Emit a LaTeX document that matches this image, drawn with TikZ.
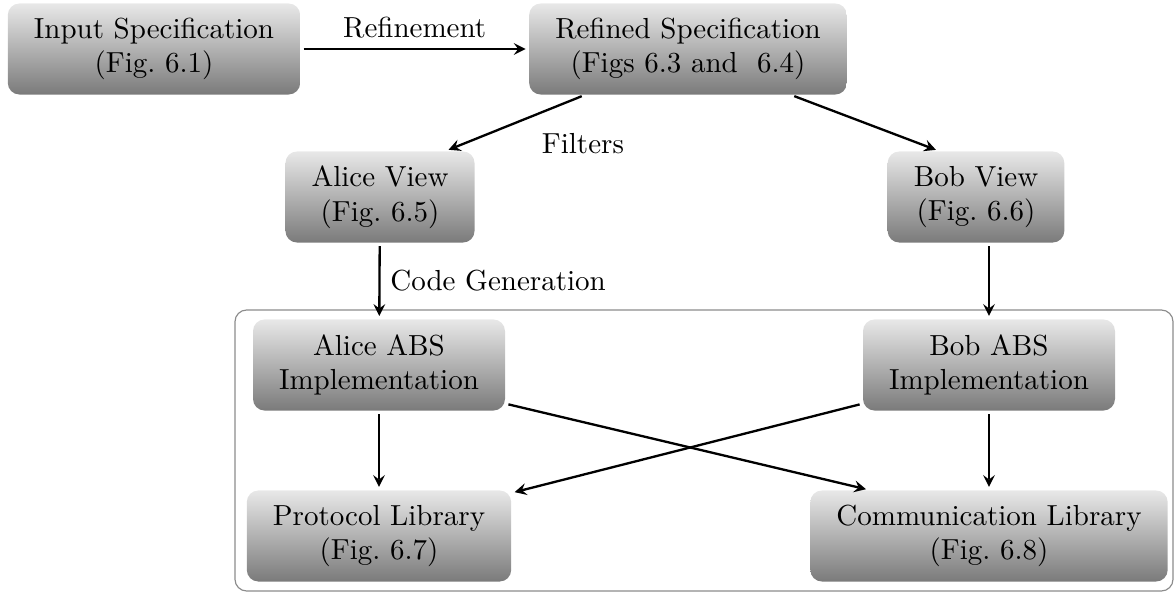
\documentclass[tikz,border=0pt]{standalone}
\usepackage{tikz}
\usetikzlibrary{arrows.meta, positioning, fit, shapes}

\begin{document}
\begin{tikzpicture}[x=0.3448pt, y=-0.3448pt,
        stage/.style={align=center, rounded corners, inner xsep=9pt,
            minimum height=31.4pt, top color=black!9, bottom color=black!52},
        flow/.style={-stealth, thick, shorten >=1pt, shorten <=1pt},
        group/.style={draw=black!45, rounded corners}
    ]
    \useasboundingbox (0,0) rectangle (1174,592);
    % Spezifikation und Sichten
    \node[stage] (input) at (154,49) {Input Specification\\(Fig.\ 6.1)};
    \node[stage] (refined) at (688,49) {Refined Specification\\(Figs 6.3 and~ 6.4)};
    \node[stage] (aliceview) at (380,197) {Alice View\\(Fig.\ 6.5)};
    \node[stage] (bobview) at (976,197) {Bob View\\(Fig.\ 6.6)};
    % Implementierung
    \draw[group] (235,310) rectangle (1173,591);
    \node[stage] (aliceabs) at (379,365) {Alice ABS\\Implementation};
    \node[stage] (bobabs) at (989,365) {Bob ABS\\Implementation};
    \node[stage] (protocol) at (379,536) {Protocol Library\\(Fig.\ 6.7)};
    \node[stage] (comm) at (989,536) {Communication Library\\(Fig.\ 6.8)};

    \draw[flow] (input) -- node[above] {Refinement} (refined);
    \draw[flow] (refined.204) -- node[below right, xshift=5.5pt] {Filters} (aliceview.35);
    \draw[flow] (refined.336) -- (bobview.129);
    \draw[flow] (aliceview) -- node[right] {Code Generation} (aliceabs);
    \draw[flow] (bobview.south -| bobabs) -- (bobabs);
    \draw[flow] (aliceabs) -- (protocol);
    \draw[flow] (aliceabs.343) -- (comm.159);
    \draw[flow] (bobabs.197) -- (protocol.18);
    \draw[flow] (bobabs) -- (comm);
\end{tikzpicture}
\end{document}
